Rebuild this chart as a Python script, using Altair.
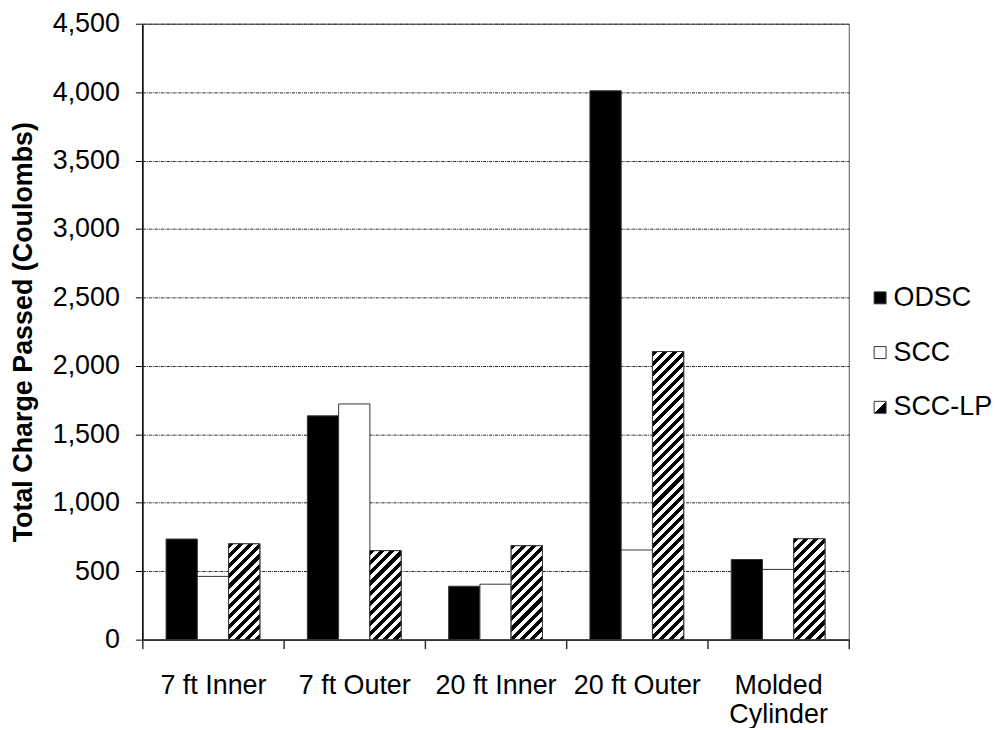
import math
import altair as alt
import pandas as pd

# ---- data ----
categories = ["7 ft Inner", "7 ft Outer", "20 ft Inner", "20 ft Outer", "Molded Cylinder"]
series = ["ODSC", "SCC", "SCC-LP"]
odsc = [735, 1635, 390, 4010, 585]
scc = [462, 1722, 405, 655, 513]
scc_lp = [700, 650, 686, 2105, 737]
y_ticks = list(range(0, 4501, 500))

# ---- layout / style ----
W, H = 710, 619
YMAX = 4500
PAD_OUT = 0.76
FONT = "Liberation Sans"
FS = 27

rows = []
for i, c in enumerate(categories):
    for s, vals in zip(series, [odsc, scc, scc_lp]):
        rows.append({"cat": c, "series": s, "value": vals[i]})
df = pd.DataFrame(rows)

band = W / len(categories)
bar_w = band / (3 + 2 * PAD_OUT)


def hatch(h, w, period=7.2, duty=0.5):
    """diagonal '/' stripes as a hard-stop linear gradient in bbox units"""
    gx, gy = 1.0 / h, 1.0 / w
    c = (gx + gy) / (gx * gx + gy * gy)
    L = (w + h) / math.sqrt(2)
    stops = []
    k = 0
    while k * period / L < 1:
        a = k * period / L
        b = min((k * period + period * duty) / L, 1)
        e = min((k + 1) * period / L, 1)
        stops += [
            {"offset": a, "color": "black"},
            {"offset": b, "color": "black"},
            {"offset": b, "color": "white"},
            {"offset": e, "color": "white"},
        ]
        k += 1
    return {"gradient": "linear", "x1": 0, "y1": 0, "x2": c * gx, "y2": c * gy, "stops": stops}


hatch_conds = [
    {"test": f"datum.cat === '{c}'", "value": hatch(v * H / YMAX, bar_w)}
    for c, v in zip(categories, scc_lp)
]

# small diagonal swatch for the legend symbol of SCC-LP
legend_hatch_expr = (
    "{gradient: 'linear', x1: 0, y1: 0, x2: 1, y2: 1, stops: ["
    "{offset: 0, color: 'white'}, {offset: 0.5, color: 'white'}, "
    "{offset: 0.5, color: 'black'}, {offset: 1, color: 'black'}]}"
)

x_enc = alt.X(
    "cat:N",
    sort=categories,
    scale=alt.Scale(paddingInner=0, paddingOuter=0),
    axis=alt.Axis(
        title=None,
        labelAngle=0,
        labelFont=FONT,
        labelFontSize=FS,
        labelColor="black",
        labelPadding=24,
        labelLineHeight=29,
        labelExpr="datum.value == 'Molded Cylinder' ? ['Molded', 'Cylinder'] : datum.value",
        tickBand="extent",
        tickSize=9,
        tickColor="#333",
        tickWidth=1.5,
        domainColor="#333",
        domainWidth=2,
        grid=False,
    ),
)
xoff_enc = alt.XOffset(
    "series:N",
    sort=series,
    scale=alt.Scale(domain=series, paddingInner=0, paddingOuter=PAD_OUT),
)
y_enc = alt.Y(
    "value:Q",
    scale=alt.Scale(domain=[0, YMAX], nice=False),
    axis=alt.Axis(
        title="Total Charge Passed (Coulombs)",
        titleFont=FONT,
        titleFontSize=FS,
        titleFontWeight="bold",
        titleColor="black",
        titlePadding=15,
        values=y_ticks,
        format=",.0f",
        labelFont=FONT,
        labelFontSize=FS,
        labelColor="black",
        labelPadding=16,
        tickSize=7,
        tickColor="black",
        domainColor="black",
        domainWidth=1.5,
        grid=True,
        gridColor="#222",
        gridWidth=1,
        gridDash=[3, 1, 1, 1],
    ),
)

bars = alt.Chart(df).mark_bar(stroke="#333", strokeWidth=1).encode(
    x=x_enc,
    xOffset=xoff_enc,
    y=y_enc,
    color=alt.Color(
        "series:N",
        sort=series,
        scale=alt.Scale(domain=series, range=["black", "white", alt.ExprRef(expr=legend_hatch_expr)]),
        legend=alt.Legend(
            title=None,
            orient="none",
            legendX=728,
            legendY=262,
            padding=0,
            labelFont=FONT,
            labelFontSize=FS,
            labelColor="black",
            labelOffset=0,
            rowPadding=27,
            symbolType="square",
            symbolSize=144,
            symbolStrokeColor="#333",
            symbolStrokeWidth=1,
        ),
    ),
)

overlay = (
    alt.Chart(df)
    .transform_filter("datum.series === 'SCC-LP'")
    .mark_bar(stroke="#333", strokeWidth=1)
    .encode(
        x=x_enc,
        xOffset=xoff_enc,
        y=y_enc,
        fill=alt.FillValue(value="#6a6a6a", condition=hatch_conds),
    )
)

chart = (
    alt.layer(bars, overlay)
    .properties(
        width=W,
        height=H,
        autosize=alt.AutoSizeParams(type="none"),
        padding={"left": 135, "top": 14, "right": 152, "bottom": 87},
        background="white",
    )
    .configure_view(stroke="#555", strokeWidth=1)
)

chart.save("out.html", embed_options={"renderer": "svg", "actions": False})
